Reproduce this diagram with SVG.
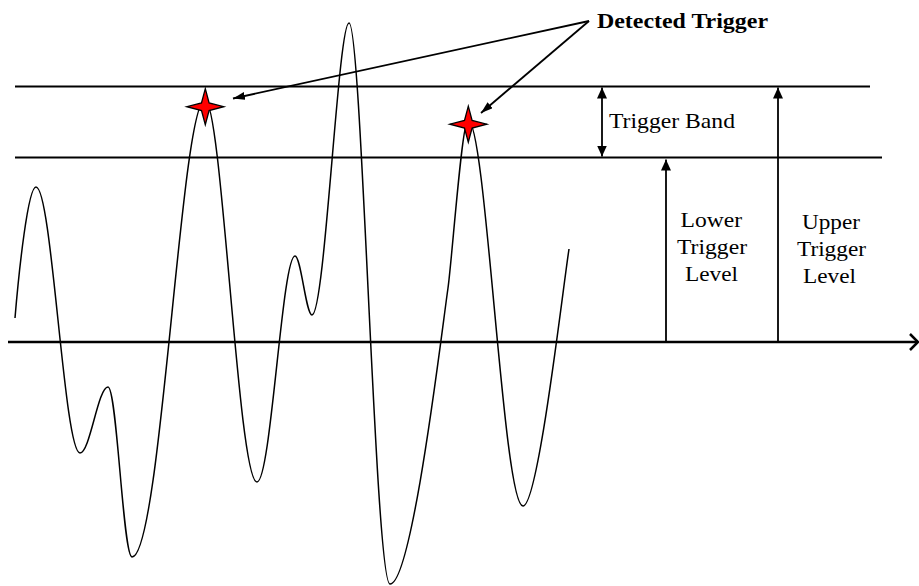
<svg xmlns="http://www.w3.org/2000/svg" width="919" height="586" viewBox="0 0 919 586">
<defs>
<style>
.ln{stroke:#000;stroke-width:1.8;fill:none}
.ax{stroke:#000;stroke-width:2.5;fill:none}
.wave{stroke:#000;stroke-width:1.5;fill:none}
.star{fill:#ff0000;stroke:#000;stroke-width:1.3;stroke-linejoin:miter}
text{font-family:'Liberation Serif','Times New Roman',Times,serif;fill:#000}
.t{font-size:22px}
.b{font-size:22px;font-weight:bold}
</style>
<marker id="ah" viewBox="0 0 12 8" refX="12" refY="4" markerWidth="12" markerHeight="8" markerUnits="userSpaceOnUse" orient="auto-start-reverse">
<path d="M0,0 L12,4 L0,8 Z" fill="#000"/>
</marker>
<marker id="av" viewBox="0 0 11 10" refX="11" refY="5" markerWidth="11" markerHeight="10" markerUnits="userSpaceOnUse" orient="auto-start-reverse">
<path d="M0,0 L11,5 L0,10 Z" fill="#000"/>
</marker>
<path id="st" d="M0,-18 L3.8,-3.8 L18.5,0 L3.8,3.8 L0,18 L-3.8,3.8 L-18.5,0 L-3.8,-3.8 Z"/>
</defs>

<g id="levels">
<line class="ln" x1="15" y1="86.5" x2="870" y2="86.5"/>
<line class="ln" x1="15" y1="157.5" x2="882" y2="157.5"/>
</g>

<g id="axis">
<line class="ax" x1="8" y1="342" x2="917" y2="342"/>
<polyline class="ax" points="910,334 918,342 910,350"/>
</g>

<g id="waveform">
<path class="wave" d="M15,318 C19,270 28,187 36,187 C52,187 64,453 80,453 C90,453 98,387 108,387 C117,387 123,557 132,557 C161,557 181,100 205,100 C222,100 238,482 257,482 C271,482 282,256 295,256 C301,256 306,315 312,315 C325,315 338,23 349,23 C362,23 375,584 390,584 C412,584 441,337 448,288 C452,260 462,120 468,120 C486,120 503,506 523,506 C538,506 562,295 569,249"/>
</g>

<g id="star1"><use href="#st" class="star" x="205.3" y="106.7"/></g>
<g id="star2"><use href="#st" class="star" x="468.3" y="124.2"/></g>

<g id="connectors">
<line class="ln" x1="589" y1="21" x2="233" y2="98.5" marker-end="url(#ah)"/>
<line class="ln" x1="589" y1="21" x2="481" y2="113" marker-end="url(#ah)"/>
<line class="ln" x1="602" y1="87.5" x2="602" y2="156.5" marker-start="url(#av)" marker-end="url(#av)"/>
<line class="ln" x1="666" y1="342" x2="666" y2="159.5" marker-end="url(#av)"/>
<line class="ln" x1="778" y1="342" x2="778" y2="87.5" marker-end="url(#av)"/>
</g>

<g id="label-detected"><text class="b" x="597" y="27.5" textLength="171" lengthAdjust="spacingAndGlyphs">Detected Trigger</text></g>
<g id="label-band"><text class="t" x="609" y="128" textLength="126" lengthAdjust="spacingAndGlyphs">Trigger Band</text></g>
<g id="label-lower">
<text class="t" x="680.5" y="227" textLength="61.5" lengthAdjust="spacingAndGlyphs">Lower</text>
<text class="t" x="677" y="254" textLength="70" lengthAdjust="spacingAndGlyphs">Trigger</text>
<text class="t" x="685" y="281" textLength="53" lengthAdjust="spacingAndGlyphs">Level</text>
</g>
<g id="label-upper">
<text class="t" x="802" y="229" textLength="58" lengthAdjust="spacingAndGlyphs">Upper</text>
<text class="t" x="797" y="256" textLength="69" lengthAdjust="spacingAndGlyphs">Trigger</text>
<text class="t" x="803" y="283" textLength="53" lengthAdjust="spacingAndGlyphs">Level</text>
</g>
</svg>
